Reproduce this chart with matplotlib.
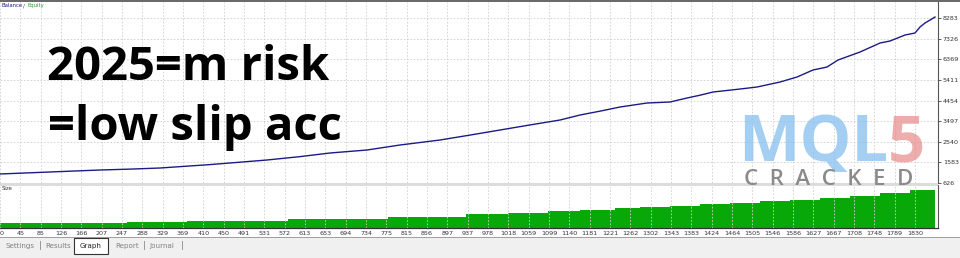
import numpy as np
import matplotlib
matplotlib.use("Agg")
import matplotlib.pyplot as plt
from matplotlib.patches import Rectangle

# ---------------- data ----------------
x_tick_labels = ["0", "45", "85", "126", "166", "207", "247", "288", "329", "369", "410",
                 "450", "491", "531", "572", "613", "653", "694", "734", "775", "815", "856",
                 "897", "937", "978", "1018", "1059", "1099", "1140", "1181", "1221", "1262",
                 "1302", "1343", "1383", "1424", "1464", "1505", "1546", "1586", "1627", "1667",
                 "1708", "1748", "1789", "1830"]
y_tick_values = [626, 1583, 2540, 3497, 4454, 5411, 6369, 7326, 8283]

balance_x = [0, 100, 200, 260, 320, 420, 534, 600, 660, 734, 800, 880, 940, 1000,
             1060, 1120, 1160, 1200, 1240, 1294, 1340, 1374, 1400, 1426, 1480, 1514,
             1560, 1594, 1626, 1654, 1676, 1720, 1760, 1780, 1810, 1830, 1840, 1850,
             1860, 1870]
balance_y = [1044, 1137, 1229, 1270, 1322, 1480, 1693, 1850, 2018, 2157, 2389, 2621,
             2850, 3085, 3320, 3549, 3781, 3960, 4152, 4338, 4384, 4570, 4700, 4848,
             4987, 5080, 5312, 5544, 5869, 6008, 6333, 6704, 7122, 7215, 7493, 7586,
             7864, 8050, 8189, 8328]

size_x = [0, 254, 374, 576, 776, 932, 1016, 1096, 1160, 1230, 1280, 1340, 1400, 1460,
          1520, 1580, 1640, 1700, 1760, 1820, 1870]
size_y = [0.05, 0.065, 0.07, 0.09, 0.11, 0.14, 0.15, 0.17, 0.18, 0.20, 0.21, 0.225,
          0.24, 0.255, 0.27, 0.285, 0.305, 0.325, 0.35, 0.38, 0.41]

tab_names = ["Settings", "Results", "Graph", "Report", "Journal"]

# ---------------- figure ----------------
W, H = 960, 258
fig = plt.figure(figsize=(W / 100, H / 100), dpi=100)
fig.patch.set_facecolor("white")

def fx(px):
    return px / W

def fy(py):
    return 1 - py / H

X_MAX = 1876
tick_step = 40.67
xticks = np.arange(len(x_tick_labels)) * tick_step
grid_col = "#cfcfcf"

# top panel
ax1 = fig.add_axes([0, fy(183), fx(938), (183 - 2) / H])
ax1.plot(balance_x, balance_y, color="#1b1b86", lw=1.0)
ax1.set_xlim(0, X_MAX)
ax1.set_ylim(626, 8283 + 16 * 46.4)
ax1.set_yticks(y_tick_values)
ax1.set_yticklabels([str(v) for v in y_tick_values])
ax1.yaxis.tick_right()
ax1.tick_params(axis="y", length=2, width=0.6, color="#444444", labelsize=4.6,
                labelcolor="#333333", pad=1.5)
ax1.set_xticks(xticks)
ax1.tick_params(axis="x", length=0, labelbottom=False)
ax1.grid(True, color=grid_col, ls=(0, (2, 2)), lw=0.6)
for s in ["top", "left", "bottom"]:
    ax1.spines[s].set_visible(False)
ax1.spines["right"].set_color("#555555")
ax1.spines["right"].set_linewidth(0.8)
ax1.set_facecolor("none")

# bottom panel
ax2 = fig.add_axes([0, fy(228), fx(938), (228 - 185) / H])
ax2.fill_between(size_x, size_y, step="post", color="#08a808", lw=0)
ax2.set_xlim(0, X_MAX)
ax2.set_ylim(0, 0.43)
ax2.set_yticks([])
ax2.set_xticks(xticks)
ax2.set_xticklabels(x_tick_labels)
ax2.tick_params(axis="x", length=0, labelsize=4.6, labelcolor="#333333", pad=2.5)
ax2.get_xticklabels()[0].set_horizontalalignment("left")
ax2.grid(True, axis="x", color=grid_col, ls=(0, (2, 2)), lw=0.6)
for s in ["top", "left"]:
    ax2.spines[s].set_visible(False)
ax2.spines["right"].set_color("#555555")
ax2.spines["bottom"].set_color("#333333")
ax2.spines["right"].set_linewidth(0.8)
ax2.spines["bottom"].set_linewidth(0.9)

# separator between panels
fig.patches.append(Rectangle((0, fy(185.5)), fx(938), 2.5 / H, transform=fig.transFigure,
                             facecolor="#dcdcdc", edgecolor="none", zorder=5))
# top border
fig.patches.append(Rectangle((0, fy(1.5)), 1, 1.5 / H, transform=fig.transFigure,
                             facecolor="#6a6a6a", edgecolor="none", zorder=5))
# tab bar
fig.patches.append(Rectangle((0, 0), 1, (H - 237) / H, transform=fig.transFigure,
                             facecolor="#f0f0f0", edgecolor="none", zorder=1))
fig.patches.append(Rectangle((0, fy(237.5)), 1, 0.8 / H, transform=fig.transFigure,
                             facecolor="#a0a0a0", edgecolor="none", zorder=2))
fig.patches.append(Rectangle((fx(74), fy(254)), fx(34), 16 / H, transform=fig.transFigure,
                             facecolor="white", edgecolor="#333333", lw=0.8, zorder=3))

tab_x = [5, 45, 80, 115, 149]
sep_x = [39, 143, 181]
for name, x in zip(tab_names, tab_x):
    fig.text(fx(x), fy(246), name, fontsize=5.1, va="center", ha="left",
             color="#222222" if name == "Graph" else "#808080", zorder=6)
for x in sep_x:
    fig.text(fx(x), fy(246), "|", fontsize=6.5, va="center", ha="left", color="#808080", zorder=6)

# panel labels
fig.text(fx(2), fy(5.5), "Balance", fontsize=3.8, color="#1b1b86", va="center", ha="left")
fig.text(fx(23), fy(5.5), "/", fontsize=3.8, color="#333333", va="center", ha="left")
fig.text(fx(27), fy(5.5), "Equity", fontsize=3.8, color="#2aa02a", va="center", ha="left")
fig.text(fx(2), fy(189), "Size", fontsize=3.8, color="#333333", va="center", ha="left", zorder=6)

# big overlay text
fig.text(fx(47), fy(80), "2025=m risk", fontsize=34, fontweight="bold",
         family="Open Sans", color="black", va="baseline", ha="left")
fig.text(fx(48), fy(140), "=low slip acc", fontsize=34, fontweight="bold",
         family="Open Sans", color="black", va="baseline", ha="left")

# watermark
fig.text(fx(738), fy(161), "MQL", fontsize=47, fontweight="bold", family="Open Sans",
         color="#86c0f0", alpha=0.75, va="baseline", ha="left", zorder=7)
fig.text(fx(888), fy(161), "5", fontsize=47, fontweight="bold", family="Open Sans",
         color="#e88a8a", alpha=0.7, va="baseline", ha="left", zorder=7)
fig.text(fx(829), fy(185), "C  R  A  C  K  E  D", fontsize=16, family="Open Sans",
         fontweight="semibold", color="#8a8a8a", va="baseline", ha="center", zorder=7)

fig.savefig("out.png", dpi=100)
